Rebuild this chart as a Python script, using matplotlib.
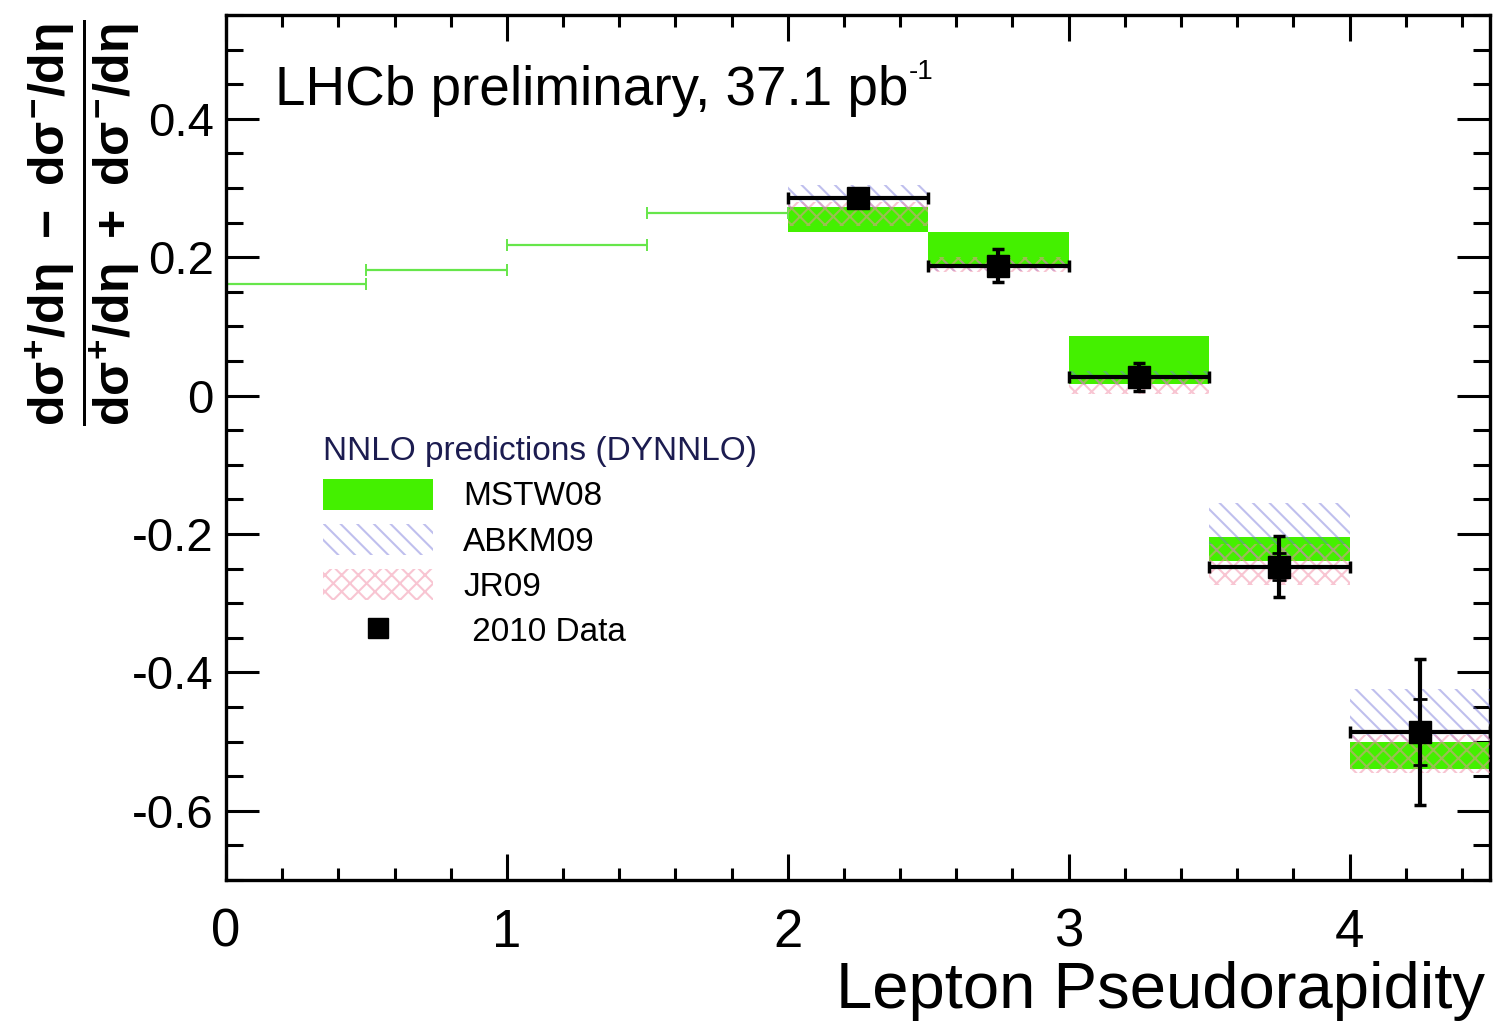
import numpy as np
import matplotlib
matplotlib.use("Agg")
import matplotlib.pyplot as plt
from matplotlib.patches import Patch
from matplotlib.lines import Line2D
from matplotlib.ticker import MultipleLocator

plt.rcParams['font.family'] = ['Liberation Sans', 'DejaVu Sans']
plt.rcParams['axes.unicode_minus'] = False
plt.rcParams['mathtext.fontset'] = 'custom'
plt.rcParams['mathtext.rm'] = 'Liberation Sans:bold'
plt.rcParams['mathtext.it'] = 'Liberation Sans:bold'
plt.rcParams['mathtext.bf'] = 'Liberation Sans:bold'
plt.rcParams['hatch.linewidth'] = 1.5

# MSTW08 prediction below the LHCb acceptance (central values only)
low_centres = [0.25, 0.75, 1.25, 1.75]
low_mstw = [0.161, 0.181, 0.217, 0.264]

# LHCb bins
centres = [2.25, 2.75, 3.25, 3.75, 4.25]
half_width = 0.25

mstw_lo = [0.237, 0.187, 0.017, -0.239, -0.540]
mstw_hi = [0.273, 0.237, 0.086, -0.205, -0.500]
abkm_lo = [0.270, 0.180, 0.015, -0.235, -0.500]
abkm_hi = [0.305, 0.195, 0.035, -0.155, -0.424]
jr_lo = [0.245, 0.178, 0.003, -0.273, -0.545]
jr_hi = [0.280, 0.200, 0.030, -0.215, -0.490]

data = [0.286, 0.188, 0.027, -0.247, -0.486]
data_tot = [0.008, 0.024, 0.020, 0.044, 0.105]
data_stat = [0.004, 0.010, 0.010, 0.020, 0.048]

green = '#44f000'
abkm_col = (0.45, 0.45, 0.85, 0.45)
jr_col = (0.95, 0.55, 0.65, 0.5)

fig = plt.figure(figsize=(14.94, 10.23), dpi=100)
ax = fig.add_axes([226 / 1494, 1 - 880 / 1023, 1264 / 1494, 865 / 1023])

def band(lo, hi, **kw):
    lo = np.array(lo)
    hi = np.array(hi)
    return ax.bar(centres, hi - lo, bottom=lo, width=2 * half_width, **kw)

band(mstw_lo, mstw_hi, color=green, linewidth=0, zorder=2)
band(abkm_lo, abkm_hi, fill=False, hatch='\\\\', edgecolor=abkm_col, linewidth=0, zorder=3)
band(jr_lo, jr_hi, fill=False, hatch='xx', edgecolor=jr_col, linewidth=0, zorder=3)

ax.errorbar(low_centres, low_mstw, xerr=half_width, fmt='none', ecolor='#66e64a',
            elinewidth=1.6, capsize=4, capthick=1.4, zorder=2)

# data: horizontal bin width, total error with caps, stat error ticks
ax.errorbar(centres, data, xerr=half_width, yerr=data_tot, fmt='none', ecolor='black',
            elinewidth=3, capsize=4, capthick=2.5, zorder=4)
ax.errorbar(centres, data, yerr=data_stat, fmt='none', ecolor='black',
            elinewidth=0, capsize=5, capthick=2, zorder=4)
ax.plot(centres, data, 's', color='black', markersize=16, zorder=5)

ax.set_xlim(0, 4.5)
ax.set_ylim(-0.7, 0.55)

ax.xaxis.set_minor_locator(MultipleLocator(0.2))
ax.yaxis.set_minor_locator(MultipleLocator(0.05))
ax.set_xticks([0, 1, 2, 3, 4])
ax.set_xticklabels(['0', '1', '2', '3', '4'])
ax.set_yticks([-0.6, -0.4, -0.2, 0, 0.2, 0.4])
ax.set_yticklabels(['-0.6', '-0.4', '-0.2', '0', '0.2', '0.4'])

ax.tick_params(axis='both', which='both', direction='in', top=True, right=True,
               width=2.2)
ax.tick_params(axis='x', which='major', length=19, pad=20, labelsize=38)
ax.tick_params(axis='x', which='minor', length=8.5)
ax.tick_params(axis='y', which='major', length=24, pad=9, labelsize=34)
ax.tick_params(axis='y', which='minor', length=12)
for s in ax.spines.values():
    s.set_linewidth(2.4)

ax.set_xlabel('Lepton Pseudorapidity', fontsize=47, loc='right', labelpad=2)
ax.xaxis.label.set_x(0.996)

fig.text(83 / 1494, 1 - 223 / 1023,
         r'$\dfrac{d\sigma^{+}/d\eta\ -\ d\sigma^{-}/d\eta}{d\sigma^{+}/d\eta\ +\ d\sigma^{-}/d\eta}$',
         rotation=90, fontsize=36, ha='center', va='center')

title = ax.text(0.0388, 0.896, 'LHCb preliminary, 37.1 pb', transform=ax.transAxes,
                fontsize=39.5, va='baseline', ha='left')
ax.annotate('-1', xy=(1.0, 1.0), xycoords=title, xytext=(0, 4),
            textcoords='offset points', fontsize=20, va='top', ha='left')

handles = [Patch(facecolor=green, edgecolor='none'),
           Patch(fill=False, hatch='\\\\', edgecolor=abkm_col, linewidth=0),
           Patch(fill=False, hatch='xx', edgecolor=jr_col, linewidth=0),
           Line2D([], [], marker='s', color='black', linestyle='none', markersize=15)]
labels = ['MSTW08', 'ABKM09', 'JR09', ' 2010 Data']
leg = ax.legend(handles, labels, loc='upper left', bbox_to_anchor=(0.077, 0.513),
                frameon=False, fontsize=24, title='NNLO predictions (DYNNLO)',
                title_fontsize=24, handlelength=3.3, handleheight=1.05,
                handletextpad=0.9, labelspacing=0.34, alignment='left',
                borderaxespad=0, borderpad=0)
leg.get_title().set_color('#1c1c50')

fig.savefig('out.png', dpi=100)
